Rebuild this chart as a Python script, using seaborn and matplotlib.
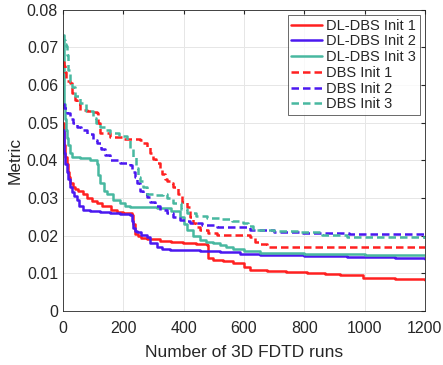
import numpy as np
import pandas as pd
import matplotlib
matplotlib.use("Agg")
import matplotlib.pyplot as plt
import seaborn as sns

# =====================
# 数据
# =====================
dl1_x = [0, 2, 5, 8, 12, 16, 20, 25, 32, 40, 50, 66, 80, 95, 112, 130, 160, 180, 200, 228, 234, 239, 250, 260, 280, 300, 322, 360, 398, 440, 477, 482, 497, 530, 564, 600, 620, 676, 740, 809, 870, 918, 995, 1100, 1200]
dl1_y = [0.050, 0.047, 0.044, 0.041, 0.039, 0.037, 0.0355, 0.034, 0.033, 0.0325, 0.0318, 0.0312, 0.030, 0.0293, 0.0287, 0.028, 0.0268, 0.0264, 0.026, 0.0256, 0.023, 0.0205, 0.0198, 0.0195, 0.0192, 0.019, 0.0187, 0.0184, 0.0181, 0.0178, 0.0175, 0.0141, 0.0136, 0.0132, 0.0128, 0.0118, 0.0109, 0.0106, 0.0103, 0.0101, 0.0099, 0.0096, 0.0088, 0.0085, 0.0082]

dl2_x = [0, 2, 5, 8, 12, 16, 22, 30, 38, 46, 55, 66, 90, 122, 156, 190, 222, 228, 233, 240, 245, 260, 278, 290, 311, 330, 355, 400, 454, 520, 587, 653, 800, 941, 1100, 1200]
dl2_y = [0.048, 0.045, 0.042, 0.039, 0.037, 0.035, 0.033, 0.0315, 0.0305, 0.0295, 0.028, 0.0268, 0.0266, 0.0264, 0.026, 0.0257, 0.0255, 0.024, 0.022, 0.0213, 0.021, 0.0202, 0.0197, 0.018, 0.017, 0.0165, 0.0162, 0.0161, 0.016, 0.0156, 0.0152, 0.0149, 0.0146, 0.0143, 0.014, 0.0138]

dl3_x = [0, 2, 4, 6, 9, 12, 16, 22, 29, 56, 90, 112, 118, 122, 135, 145, 165, 189, 205, 222, 260, 311, 360, 388, 400, 411, 430, 454, 475, 497, 520, 540, 564, 600, 653, 800, 1000, 1200]
dl3_y = [0.072, 0.062, 0.055, 0.051, 0.048, 0.046, 0.044, 0.042, 0.041, 0.0407, 0.040, 0.039, 0.036, 0.034, 0.032, 0.031, 0.0295, 0.0287, 0.028, 0.0277, 0.0275, 0.0273, 0.0265, 0.025, 0.023, 0.0215, 0.020, 0.0189, 0.0183, 0.018, 0.0175, 0.017, 0.0165, 0.016, 0.0154, 0.0152, 0.015, 0.0149]

dbs1_x = [0, 3, 6, 10, 15, 23, 30, 40, 48, 56, 80, 100, 112, 117, 122, 156, 200, 255, 265, 278, 290, 300, 310, 322, 330, 337, 344, 355, 365, 380, 395, 411, 420, 431, 440, 454, 480, 510, 620, 636, 650, 676, 1200]
dbs1_y = [0.0662, 0.065, 0.0635, 0.062, 0.061, 0.0606, 0.058, 0.056, 0.055, 0.0535, 0.053, 0.0528, 0.0526, 0.050, 0.0473, 0.0463, 0.0458, 0.0455, 0.0445, 0.0436, 0.042, 0.0405, 0.0393, 0.038, 0.0365, 0.035, 0.0345, 0.034, 0.033, 0.031, 0.029, 0.0277, 0.025, 0.0234, 0.0222, 0.0215, 0.0207, 0.0202, 0.0197, 0.0184, 0.0178, 0.0171, 0.0169]

dbs2_x = [0, 5, 13, 25, 35, 46, 60, 80, 100, 112, 125, 140, 156, 190, 222, 230, 238, 245, 255, 265, 278, 290, 305, 322, 345, 365, 388, 405, 421, 460, 510, 620, 700, 786, 950, 1200]
dbs2_y = [0.055, 0.054, 0.0526, 0.051, 0.050, 0.049, 0.048, 0.047, 0.0455, 0.0447, 0.043, 0.0415, 0.040, 0.0394, 0.0388, 0.037, 0.0356, 0.034, 0.032, 0.031, 0.0303, 0.029, 0.0278, 0.0268, 0.026, 0.025, 0.0242, 0.0238, 0.0234, 0.0228, 0.0222, 0.0215, 0.0211, 0.0207, 0.0204, 0.0201]

dbs3_x = [0, 3, 6, 10, 13, 17, 22, 29, 40, 56, 75, 100, 110, 122, 140, 156, 185, 212, 222, 233, 242, 250, 255, 265, 278, 305, 332, 345, 365, 390, 411, 440, 477, 520, 560, 597, 615, 630, 700, 786, 860, 941, 1200]
dbs3_y = [0.0734, 0.072, 0.071, 0.0705, 0.068, 0.064, 0.061, 0.0596, 0.057, 0.0553, 0.053, 0.0513, 0.050, 0.049, 0.048, 0.0473, 0.0465, 0.0455, 0.043, 0.041, 0.038, 0.0355, 0.0345, 0.033, 0.031, 0.0308, 0.031, 0.030, 0.0287, 0.027, 0.026, 0.0252, 0.0247, 0.0244, 0.0238, 0.0234, 0.0225, 0.0215, 0.0213, 0.021, 0.0203, 0.0197, 0.0194]

labels = ["DL-DBS Init 1", "DL-DBS Init 2", "DL-DBS Init 3", "DBS Init 1", "DBS Init 2", "DBS Init 3"]
xs = [dl1_x, dl2_x, dl3_x, dbs1_x, dbs2_x, dbs3_x]
ys = [dl1_y, dl2_y, dl3_y, dbs1_y, dbs2_y, dbs3_y]

red = "#FF2020"
blue = "#4B18F0"
teal = "#48B8A0"
colors = [red, blue, teal, red, blue, teal]

# =====================
# 绘图
# =====================
sns.set_style("white")
plt.rcParams["font.family"] = ["Liberation Sans", "DejaVu Sans"]

fig = plt.figure(figsize=(4.43, 3.65), dpi=100)
ax = fig.add_axes([0.142, 0.148, 0.817, 0.825])

for i, (x, y, lab) in enumerate(zip(xs, ys, labels)):
    df = pd.DataFrame({"x": x, "y": y})
    kw = dict(dashes=(3, 1.6)) if i >= 3 else {}
    sns.lineplot(data=df, x="x", y="y", ax=ax, color=colors[i], label=lab,
                 drawstyle="steps-post", linewidth=1.8, estimator=None, **kw)

ax.set_xlim(0, 1200)
ax.set_ylim(0, 0.08)
ax.set_xticks([0, 200, 400, 600, 800, 1000, 1200])
ax.set_yticks(np.arange(0, 0.081, 0.01))
ax.set_yticklabels(["0", "0.01", "0.02", "0.03", "0.04", "0.05", "0.06", "0.07", "0.08"])
ax.grid(True, color="#E6E6E6", linewidth=0.7)
ax.tick_params(direction="in", labelsize=11.5, length=3, color="#262626",
               top=True, right=True, labelcolor="#262626")
ax.tick_params(axis="x", pad=7)
for s in ax.spines.values():
    s.set_color("#262626")
    s.set_linewidth(0.6)
ax.set_xlabel("Number of 3D FDTD runs", fontsize=12.5, color="#262626", labelpad=7)
ax.set_ylabel("Metric", fontsize=12.5, color="#262626", labelpad=3)

leg = ax.legend(loc="upper right", fontsize=10.5, frameon=True, fancybox=False,
                borderpad=0.25, labelspacing=0.12, handlelength=2.1,
                handletextpad=0.3, borderaxespad=0.35)
leg.get_frame().set_edgecolor("#262626")
leg.get_frame().set_linewidth(0.6)

fig.savefig("out.png", dpi=100)
